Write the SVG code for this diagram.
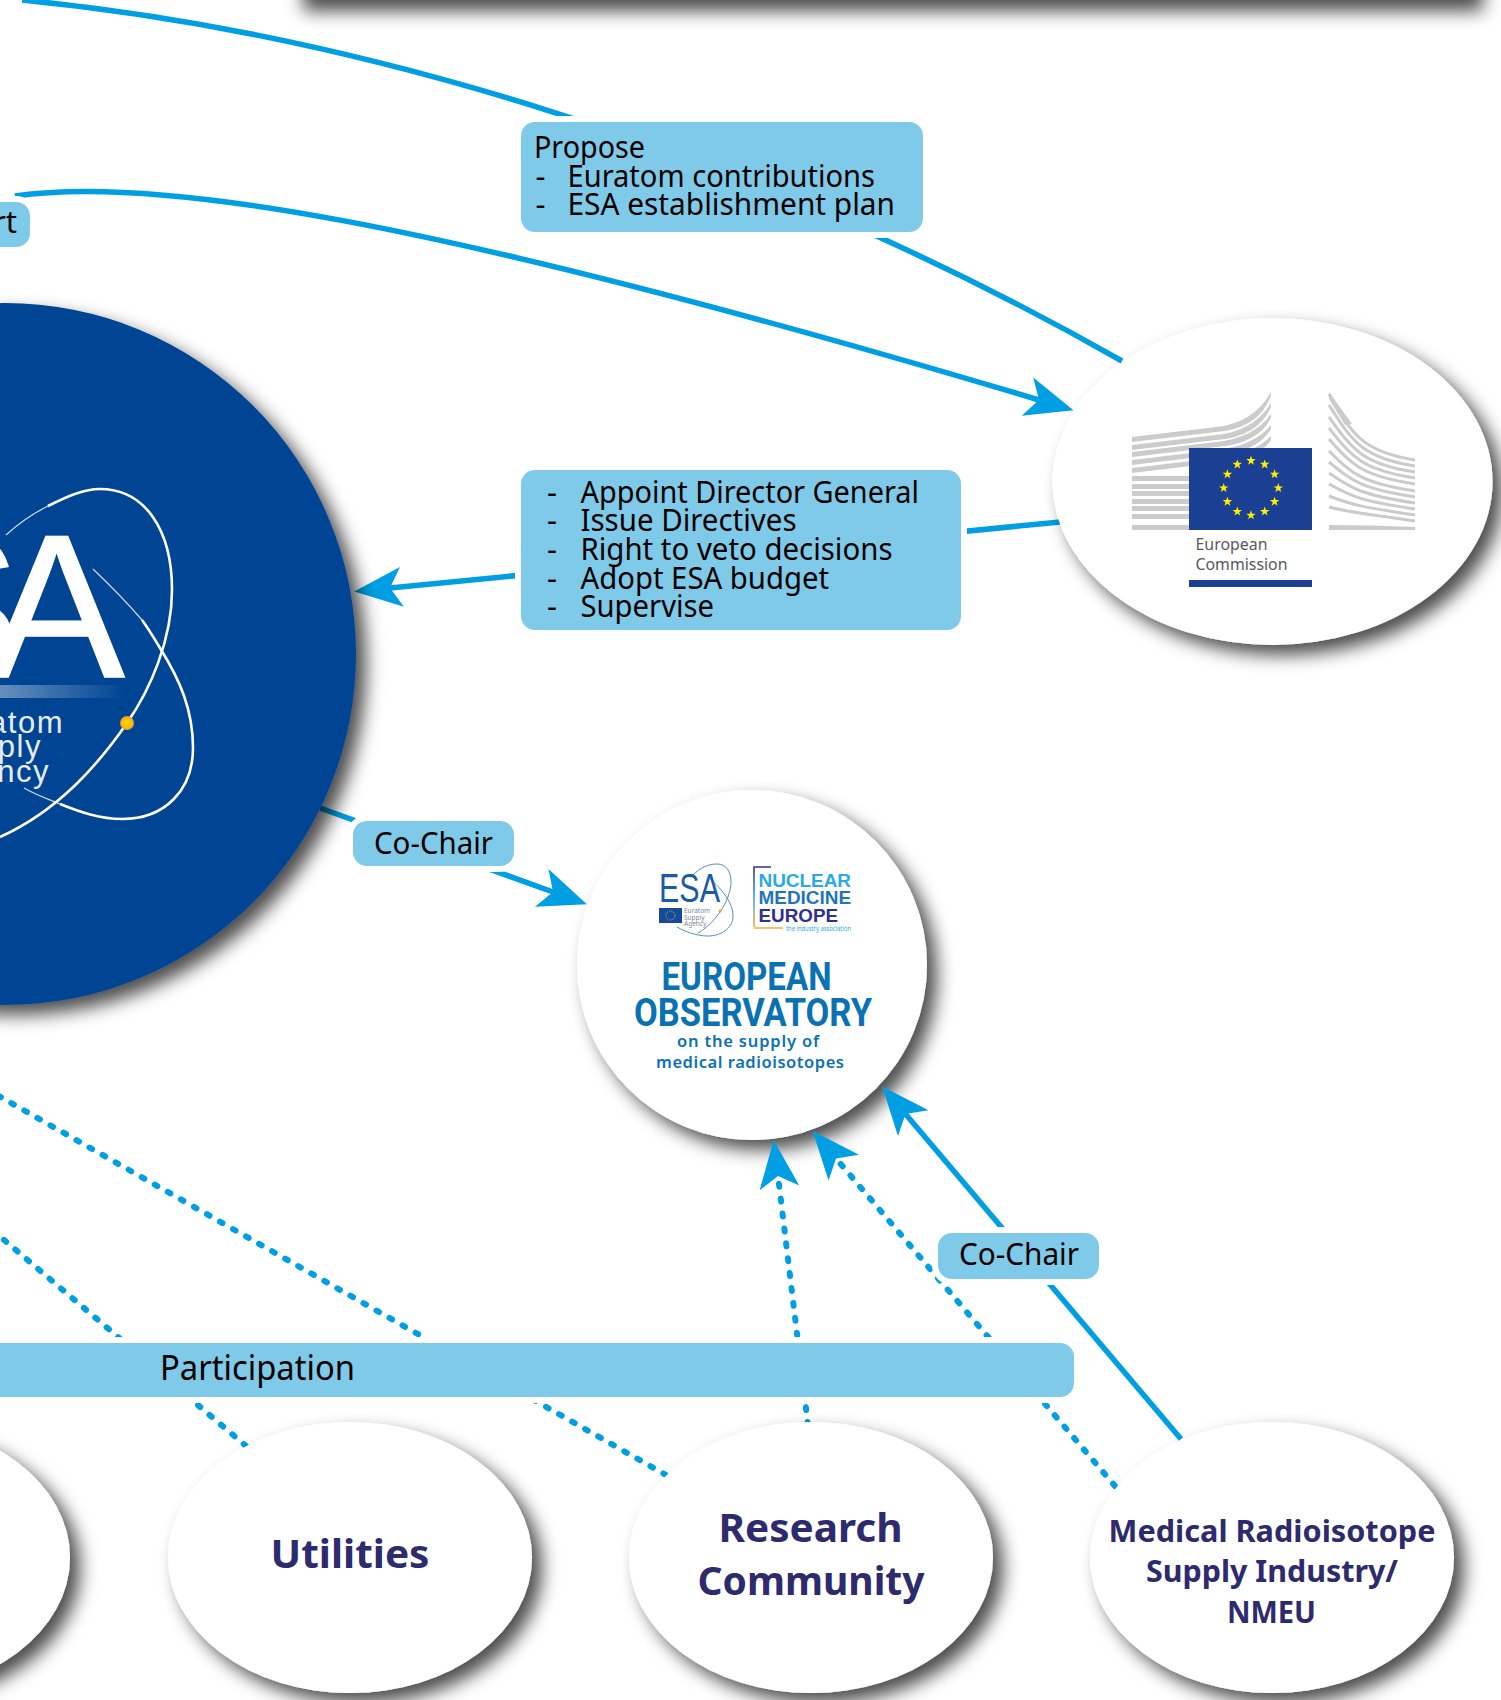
<svg xmlns="http://www.w3.org/2000/svg" xmlns:xlink="http://www.w3.org/1999/xlink" width="1501" height="1700" viewBox="0 0 1501 1700">
<style>
text{font-family:"Noto Sans","Open Sans","Liberation Sans",sans-serif}
.node{fill:#fff;filter:url(#sh)}
.lbl{fill:#7fcae8;stroke:#fff;stroke-width:12;paint-order:stroke}
.t{font-size:31px;fill:#000;font-weight:400}
.b{font-size:40px;font-weight:700;fill:#2d2a6e}
.m{font-size:31px;font-weight:700;fill:#2d2a6e}
.c{fill:none;stroke:#009fe3;stroke-width:5.500}
.arrow{marker-end:url(#ah)}
.dot{stroke-width:6;stroke-dasharray:3 12;stroke-linecap:round}
.orb{fill:none;stroke:#fff;stroke-width:2.600}
.orbt{fill:none;stroke:#fff;stroke-width:1.200;opacity:.8}
.bld{fill:#cbcbcb}
.bldr{fill:none;stroke:#cbcbcb;stroke-width:3}
.esa{font-family:"Liberation Sans",sans-serif;fill:#fff;stroke:#fff;stroke-width:1.500}
.sub{font-family:"Liberation Sans",sans-serif;font-size:31px;letter-spacing:1.500px;fill:#e6ecf5;text-anchor:end}
.ob{font-family:Roboto,"Noto Sans",sans-serif;font-weight:700;fill:#0a71b4}
.nm{font-family:"Liberation Sans",sans-serif;font-weight:700;font-size:18.500px}
</style>
<defs>
<filter id="sh" x="-10%" y="-10%" width="130%" height="200%"><feDropShadow dx="10" dy="10" stdDeviation="9" flood-color="#000" flood-opacity=".7"/></filter>
<filter id="bl" x="-5%" y="-50%" width="110%" height="200%"><feGaussianBlur stdDeviation="9"/></filter>
<marker id="ah" markerUnits="userSpaceOnUse" markerWidth="50" markerHeight="42" refX="12" refY="20" orient="auto"><path d="M0 0L48 20L0 40L12 20Z" fill="#009fe3"/></marker>
<linearGradient id="bar"><stop offset="0" stop-color="#fff" stop-opacity=".4"/><stop offset="1" stop-color="#fff" stop-opacity="0"/></linearGradient>
<radialGradient id="gold"><stop offset="0" stop-color="#ffe000"/><stop offset=".7" stop-color="#fdb913"/><stop offset="1" stop-color="#e8962a"/></radialGradient>
<linearGradient id="brk" x1="0" y1="0" x2="0" y2="1"><stop offset="0" stop-color="#2e3192"/><stop offset=".5" stop-color="#29abe2"/><stop offset="1" stop-color="#fbb03b"/></linearGradient>
<polygon id="st" points="0,-5 1.2,-1.6 4.8,-1.6 1.9,.6 2.9,4 0,2 -2.9,4 -1.9,.6 -4.8,-1.6 -1.2,-1.6" fill="#ffed00"/>
</defs>
<rect width="1501" height="1700" fill="#fff"/>
<g id="node-top"><rect x="303" y="-50" width="1180" height="61" fill="#000" opacity=".7" filter="url(#bl)"/></g>
<g id="node-observatory">
<circle class="node" cx="752" cy="965" r="175"/>
<path d="M693 875C700 868 708 864 717 864C726 864 731 871 731 882C731 892 726 903 720 912C712 923 705 929 698 933" fill="none" stroke="#2f6fb0" stroke-width=".8"/>
<path d="M708 877C718 886 733 900 733 916C733 929 720 936 708 936C697 936 686 932 677 927" fill="none" stroke="#2f6fb0" stroke-width=".8"/>
<circle cx="720" cy="911" r="1.600" fill="#f7a823"/>
<text x="659" y="902" font-size="40" textLength="61" lengthAdjust="spacingAndGlyphs" style="font-family:'Liberation Sans',sans-serif" fill="#1b5aa5">ESA</text>
<rect x="659" y="908" width="23" height="15" fill="#164a9c"/>
<circle cx="670.500" cy="915.500" r="4.500" fill="none" stroke="#d8c83c" stroke-width="1" stroke-dasharray="1 1.400"/>
<g font-size="6.500" fill="#7a8aa0"><text x="684" y="913">Euratom</text><text x="684" y="919.500">Supply</text><text x="684" y="926">Agency</text></g>
<path d="M771 867H754V927" fill="none" stroke="url(#brk)" stroke-width="1.600"/>
<path d="M754 928H783" stroke="#fbb03b" stroke-width="1.600"/>
<text class="nm" x="758.500" y="887" fill="#29abe2" textLength="92.500" lengthAdjust="spacingAndGlyphs">NUCLEAR</text>
<text class="nm" x="758.500" y="904" fill="#1f75bc" textLength="92.500" lengthAdjust="spacingAndGlyphs">MEDICINE</text>
<text class="nm" x="758.500" y="921.500" fill="#2e3192" textLength="79.500" lengthAdjust="spacingAndGlyphs">EUROPE</text>
<text x="786" y="931" font-size="6.500" fill="#29abe2" textLength="65" lengthAdjust="spacingAndGlyphs">the industry association</text>
<text class="ob" x="661.500" y="990" font-size="39" textLength="170" lengthAdjust="spacingAndGlyphs">EUROPEAN</text>
<text class="ob" x="634" y="1026" font-size="39" textLength="238" lengthAdjust="spacingAndGlyphs">OBSERVATORY</text>
<text x="677" y="1047" font-size="16.500" font-weight="600" fill="#0a71b4" textLength="142">on the supply of</text>
<text x="656" y="1068" font-size="16.500" font-weight="600" fill="#0a71b4" textLength="188">medical radioisotopes</text>
</g>
<g id="connectors">
<path class="c" d="M22 0C310 28 712 128 1122 361"/>
<path class="c arrow" d="M15 196C150 176 420 215 1039 400"/>
<path class="c arrow" d="M1060 522L390 588"/>
<path class="c arrow" d="M320 808L553 892"/>
<path class="c arrow" d="M1181 1439L905.500 1114"/>
<path class="c dot arrow" d="M808 1425L778 1176"/>
<path class="c dot arrow" d="M1115 1486L836 1158.500"/>
<path class="c dot" d="M666 1475L-10 1091"/>
<path class="c dot" d="M246 1446L-10 1228"/>
</g>
<g id="node-esa">
<circle class="node" cx="5" cy="654" r="351" style="fill:#004494"/>
<text class="esa" font-size="205"><tspan x="-116" y="677">S</tspan><tspan x="-12" y="677">A</tspan></text>
<rect x="0" y="685" width="124" height="13" fill="url(#bar)"/>
<text class="sub" x="64" y="733">atom</text>
<text class="sub" x="42" y="757">ply</text>
<text class="sub" x="50" y="782">ncy</text>
<path class="orbt" d="M6 535C18 524 32 514 48 506"/>
<path class="orb" d="M48 506C68 496 84 489 100 489C145 489 172 530 172 590C172 640 150 690 127 723C100 762 60 810 0 837"/>
<path class="orbt" d="M93 569C115 590 130 606 142 620"/>
<path class="orb" d="M142 620C148 628 154 638 160 648C180 680 193 710 193 748C193 790 165 819 122 819C100 819 80 812 60 804"/>
<path class="orbt" d="M60 804C48 799 36 795 24 788"/>
<circle cx="127" cy="723" r="7" fill="url(#gold)"/>
</g>
<g id="node-ec">
<ellipse class="node" cx="1272.500" cy="481.500" rx="220" ry="163.500"/>
<g class="bld">
<path d="M1132 437L1216 427Q1254 423 1271 392L1271 396Q1258 429 1216 432L1132 442Z"/>
<path d="M1132 445L1216 435Q1254 431 1271 403L1271 407Q1258 437 1216 440L1132 450Z"/>
<path d="M1132 452L1216 442Q1254 438 1271 414L1271 418Q1258 444 1216 447L1132 457Z"/>
<path d="M1132 460L1216 450Q1254 446 1271 425L1271 429Q1258 452 1216 455L1132 465Z"/>
<path d="M1132 468L1216 458Q1254 454 1271 436L1271 440Q1258 460 1216 463L1132 473Z"/>
<rect x="1132" y="476" width="60" height="5"/><rect x="1132" y="484" width="60" height="5"/><rect x="1132" y="491" width="60" height="5"/><rect x="1132" y="499" width="60" height="5"/><rect x="1132" y="506" width="60" height="5"/><rect x="1132" y="514" width="60" height="5"/><rect x="1132" y="525" width="60" height="5"/>
<path d="M1329 525Q1372 525 1415 527V530H1329Z"/>
<path d="M1329 392L1329 399L1345 425L1352 424Z"/>
</g>
<g class="bldr">
<path d="M1329 394C1352 434 1362 452 1415 460"/>
<path d="M1329 405C1352 441 1362 458 1415 466"/>
<path d="M1329 417C1352 449 1362 464 1415 472"/>
<path d="M1329 428C1352 457 1362 470 1415 478"/>
<path d="M1329 439C1352 465 1362 476 1415 484"/>
<path d="M1329 451C1352 474 1362 483 1415 491"/>
<path d="M1329 462C1352 481 1362 489 1415 497"/>
<path d="M1329 473C1352 489 1362 495 1415 503"/>
<path d="M1329 484C1352 497 1362 501 1415 509"/>
<path d="M1329 496C1352 505 1362 507 1415 515"/>
<path d="M1329 507C1352 513 1362 513 1415 521"/>
</g>
<rect x="1189" y="448" width="123" height="82" fill="#1a3f93"/>
<use xlink:href="#st" x="1251" y="460.700"/><use xlink:href="#st" x="1264.700" y="464.400"/><use xlink:href="#st" x="1274.600" y="474.300"/><use xlink:href="#st" x="1278.300" y="488"/><use xlink:href="#st" x="1274.600" y="501.700"/><use xlink:href="#st" x="1264.700" y="511.600"/><use xlink:href="#st" x="1251" y="515.300"/><use xlink:href="#st" x="1237.300" y="511.600"/><use xlink:href="#st" x="1227.400" y="501.700"/><use xlink:href="#st" x="1223.700" y="488"/><use xlink:href="#st" x="1227.400" y="474.300"/><use xlink:href="#st" x="1237.300" y="464.400"/>
<text x="1195.500" y="550" font-size="17" fill="#58595b" textLength="72" lengthAdjust="spacingAndGlyphs">European</text>
<text x="1195.500" y="570" font-size="17" fill="#58595b" textLength="92" lengthAdjust="spacingAndGlyphs">Commission</text>
<rect x="1189" y="580" width="123" height="7" fill="#1a3f93"/>
</g>
<g id="node-left"><ellipse class="node" cx="-112" cy="1557.500" rx="182" ry="135.500"/></g>
<g id="node-utilities"><ellipse class="node" cx="350" cy="1557.500" rx="182" ry="135.500"/><text class="b" x="270.500" y="1568" textLength="159" lengthAdjust="spacingAndGlyphs">Utilities</text></g>
<g id="node-research"><ellipse class="node" cx="811" cy="1557.500" rx="182" ry="135.500"/><text class="b" x="718.500" y="1542" textLength="184" lengthAdjust="spacingAndGlyphs">Research</text><text class="b" x="697.500" y="1595" textLength="227" lengthAdjust="spacingAndGlyphs">Community</text></g>
<g id="node-medical"><ellipse class="node" cx="1272" cy="1557.500" rx="182" ry="135.500"/><text class="m" x="1108.500" y="1542" textLength="327" lengthAdjust="spacingAndGlyphs">Medical Radioisotope</text><text class="m" x="1146" y="1582" textLength="252" lengthAdjust="spacingAndGlyphs">Supply Industry/</text><text class="m" x="1227" y="1623" textLength="89" lengthAdjust="spacingAndGlyphs">NMEU</text></g>
<g id="label-propose"><rect class="lbl" x="521" y="122" width="402" height="110" rx="14"/>
<text class="t" x="534" y="157.500" textLength="111" lengthAdjust="spacingAndGlyphs">Propose</text>
<text class="t" x="535.500" y="186.500">-</text><text class="t" x="567.500" y="186.500" textLength="307.500" lengthAdjust="spacingAndGlyphs">Euratom contributions</text>
<text class="t" x="535.500" y="215">-</text><text class="t" x="567.500" y="215" textLength="327.500" lengthAdjust="spacingAndGlyphs">ESA establishment plan</text></g>
<g id="label-rt"><rect class="lbl" x="-40" y="202" width="70" height="45" rx="14"/><text class="t" x="17" y="233" text-anchor="end">rt</text></g>
<g id="label-appoint"><rect class="lbl" x="521" y="470" width="440" height="160" rx="14"/>
<text class="t" x="547" y="503">-</text><text class="t" x="580.500" y="503" textLength="338.500" lengthAdjust="spacingAndGlyphs">Appoint Director General</text>
<text class="t" x="547" y="531">-</text><text class="t" x="580.500" y="531" textLength="216" lengthAdjust="spacingAndGlyphs">Issue Directives</text>
<text class="t" x="547" y="560">-</text><text class="t" x="580.500" y="560" textLength="312" lengthAdjust="spacingAndGlyphs">Right to veto decisions</text>
<text class="t" x="547" y="588.500">-</text><text class="t" x="580.500" y="588.500" textLength="248.500" lengthAdjust="spacingAndGlyphs">Adopt ESA budget</text>
<text class="t" x="547" y="617">-</text><text class="t" x="580.500" y="617" textLength="133.500" lengthAdjust="spacingAndGlyphs">Supervise</text></g>
<g id="label-cochair-top"><rect class="lbl" x="353" y="821" width="161" height="45" rx="14"/><text class="t" x="374" y="853.500" textLength="119" lengthAdjust="spacingAndGlyphs">Co-Chair</text></g>
<g id="label-cochair-bottom"><rect class="lbl" x="938" y="1233" width="161" height="46" rx="14"/><text class="t" x="959" y="1265" textLength="120" lengthAdjust="spacingAndGlyphs">Co-Chair</text></g>
<g id="label-participation"><rect class="lbl" x="-40" y="1343" width="1114" height="54" rx="14"/><text class="t" x="160" y="1380" style="font-size:35px" textLength="195" lengthAdjust="spacingAndGlyphs">Participation</text></g>
</svg>
